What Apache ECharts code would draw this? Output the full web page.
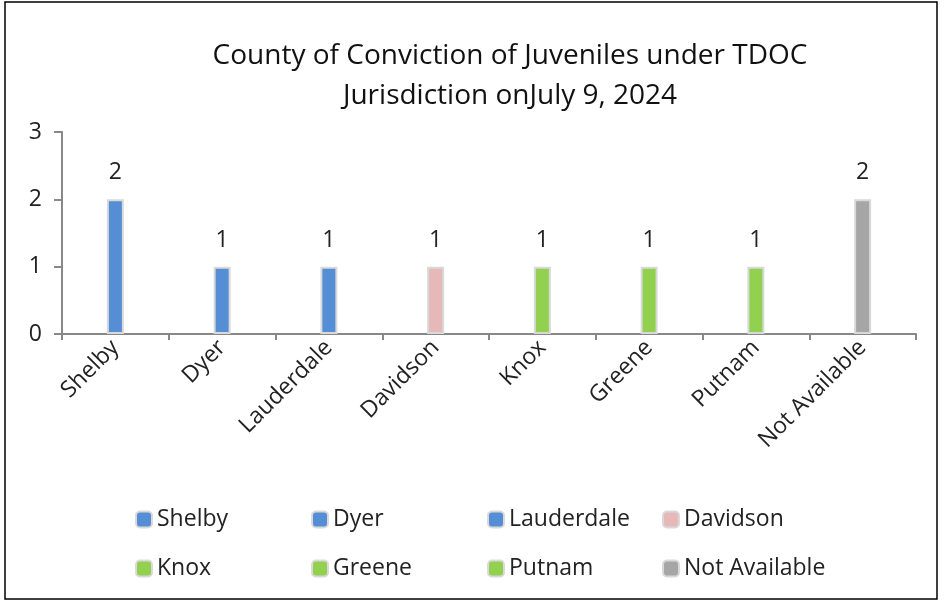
<!DOCTYPE html>
<html>
<head>
<meta charset="utf-8">
<script src="https://cdn.jsdelivr.net/npm/echarts@6/dist/echarts.min.js"></script>
<style>
  html, body { margin: 0; padding: 0; background: #fff; }
  #main { width: 946px; height: 604px; }
</style>
</head>
<body>
<div id="main"></div>
<script>
// categories and values
var counties = ['Shelby', 'Dyer', 'Lauderdale', 'Davidson', 'Knox', 'Greene', 'Putnam', 'Not Available'];
var counts = [2, 1, 1, 1, 1, 1, 1, 2];
var barColors = ['#558ed5', '#558ed5', '#558ed5', '#e6b9b8', '#92d050', '#92d050', '#92d050', '#a6a6a6'];
var yTicks = [0, 1, 2, 3];

var font = 'Open Sans';

// one series per county so every county gets its own legend entry
var series = [];
for (var i = 0; i < counties.length; i++) {
  var d = [];
  for (var j = 0; j < counties.length; j++) {
    d.push(j === i ? counts[i] : null);
  }
  series.push({
    name: counties[i],
    type: 'bar',
    stack: 'all',
    barWidth: 17,
    data: d,
    itemStyle: {
      color: barColors[i],
      borderColor: '#d9d9d9',
      borderWidth: 2
    },
    label: {
      show: true,
      position: 'top',
      distance: 15,
      color: '#222',
      fontFamily: font,
      fontSize: 23
    }
  });
}

// legend: 2 rows x 4, each placed on its own
var legends = [];
var legLeft = [135, 311, 487, 662];
var legTop = [508, 557];
for (var k = 0; k < counties.length; k++) {
  legends.push({
    data: [counties[k]],
    left: legLeft[k % 4],
    top: legTop[Math.floor(k / 4)],
    itemWidth: 16,
    itemHeight: 16,
    itemGap: 6,
    padding: 0,
    textStyle: { color: '#222', fontFamily: font, fontSize: 23 }
  });
}

var myChart = echarts.init(document.getElementById('main'));
var option = {
  animation: false,
  backgroundColor: '#fff',
  title: {
    text: 'County of Conviction of Juveniles under TDOC\nJurisdiction onJuly 9, 2024',
    left: 505,
    top: 31,
    textAlign: 'center',
    textStyle: {
      color: '#111',
      fontFamily: font,
      fontSize: 28,
      fontWeight: 'normal',
      lineHeight: 40
    }
  },
  legend: legends,
  grid: { left: 62, right: 30, top: 132, bottom: 270 },
  xAxis: {
    type: 'category',
    data: counties,
    axisLine: { lineStyle: { color: '#888', width: 2 } },
    axisTick: { show: true, length: 6, lineStyle: { color: '#888', width: 2 } },
    axisLabel: {
      rotate: 45,
      interval: 0,
      margin: 10,
      color: '#222',
      fontFamily: font,
      fontSize: 23
    }
  },
  yAxis: {
    type: 'value',
    min: yTicks[0],
    max: yTicks[yTicks.length - 1],
    interval: 1,
    splitLine: { show: false },
    axisLine: { show: true, lineStyle: { color: '#888', width: 2 } },
    axisTick: { show: true, length: 8, lineStyle: { color: '#888', width: 2 } },
    axisLabel: { color: '#222', fontFamily: font, fontSize: 23, margin: 20 }
  },
  graphic: [{
    type: 'rect',
    shape: { x: 5, y: 2, width: 932, height: 597 },
    style: { fill: 'none', stroke: '#000', lineWidth: 1.5 },
    silent: true
  }],
  series: series
};
myChart.setOption(option);
</script>
</body>
</html>
